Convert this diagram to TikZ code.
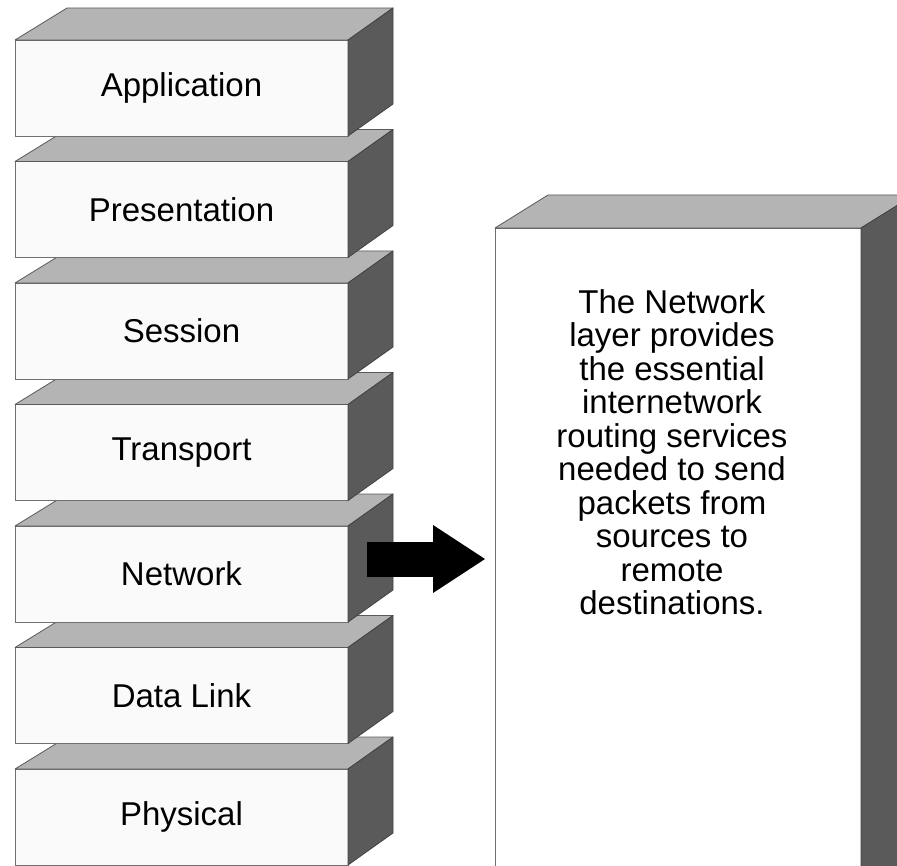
\documentclass[tikz,border=0pt]{standalone}
\usepackage{fontspec}
\setmainfont{Liberation Sans}
\usetikzlibrary{arrows.meta}
\definecolor{topgray}{HTML}{B4B4B4}
\definecolor{sidegray}{HTML}{5A5A5A}
\definecolor{edgegray}{HTML}{707070}
\tikzset{
  layer/.style={draw=edgegray, fill=black!2, line width=0.8pt,
    minimum width=333pt, minimum height=96pt, inner sep=0pt, outer sep=0pt,
    anchor=north west, font=\fontsize{33}{33.5}\selectfont},
  infobox/.style={draw=edgegray, fill=white, line width=0.8pt,
    minimum width=366pt, minimum height=700pt, inner sep=0pt, outer sep=0pt,
    anchor=north west},
  infotext/.style={align=center, inner sep=0pt, font=\fontsize{33}{33.5}\selectfont},
  topface/.style={draw=edgegray!80!black, fill=topgray, line width=0.8pt, line join=round},
  sideface/.style={draw=edgegray!60!black, fill=sidegray, line width=0.8pt, line join=round},
  bigarrow/.style={line width=35pt, black,
    -{Triangle[length=52pt, width=68pt, line width=0pt]}}
}
\begin{document}
\begin{tikzpicture}[x=1pt, y=-1pt]
\useasboundingbox (0,0) rectangle (897,866);
\clip (0,0) rectangle (897,866);
% the seven layers, bottom one first
\foreach \i/\lbl/\nm in {6/Physical/physical, 5/Data Link/datalink,
    4/Network/network, 3/Transport/transport, 2/Session/session,
    1/Presentation/presentation, 0/Application/application}{
  \pgfmathsetmacro\ytop{40+121.5*\i}
  \node[layer] (\nm) at (15,\ytop) {\lbl};
  \draw[topface] (\nm.north west) -- ++(52,-32) -- ([shift={(45,-32)}]\nm.north east)
    -- (\nm.north east) -- cycle;
  \draw[sideface] (\nm.north east) -- ++(45,-32) -- ([shift={(45,-32)}]\nm.south east)
    -- (\nm.south east) -- cycle;
}
% the tall box
\node[infobox] (info) at (495,228) {};
\draw[topface] (info.north west) -- ++(53,-33) -- ([shift={(53,-33)}]info.north east)
  -- (info.north east) -- cycle;
\draw[sideface] (info.north east) -- ++(53,-33) -- ([shift={(53,-33)}]info.south east)
  -- (info.south east) -- cycle;
\node[infotext] (desc) at (672,452) {The Network\\layer provides\\the essential\\internetwork\\routing services\\needed to send\\packets from\\sources to\\remote\\destinations.};
% arrow
\coordinate (arrtail) at ([shift={(19,-15)}]network.east);
\coordinate (arrtip) at ([xshift=-10]info.west |- arrtail);
\draw[bigarrow] (arrtail) -- (arrtip);
\end{tikzpicture}
\end{document}
